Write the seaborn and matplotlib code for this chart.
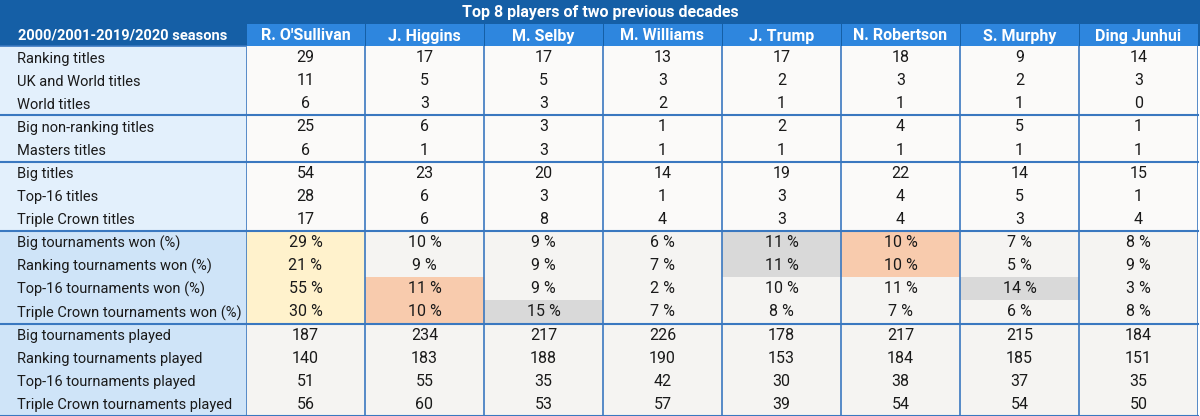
import matplotlib
matplotlib.use("Agg")
import matplotlib.pyplot as plt
from matplotlib.colors import ListedColormap
from matplotlib.patches import Rectangle
import seaborn as sns
import numpy as np

title = "Top 8 players of two previous decades"
corner_label = "2000/2001-2019/2020 seasons"
players = ["R. O'Sullivan", "J. Higgins", "M. Selby", "M. Williams",
           "J. Trump", "N. Robertson", "S. Murphy", "Ding Junhui"]

row_labels = [
    "Ranking titles", "UK and World titles", "World titles",
    "Big non-ranking titles", "Masters titles",
    "Big titles", "Top-16 titles", "Triple Crown titles",
    "Big tournaments won (%)", "Ranking tournaments won (%)",
    "Top-16 tournaments won (%)", "Triple Crown tournaments won (%)",
    "Big tournaments played", "Ranking tournaments played",
    "Top-16 tournaments played", "Triple Crown tournaments played",
]
# number of rows in each block of the table
group_sizes = [3, 2, 3, 4, 4]

ranking_titles = [29, 17, 17, 13, 17, 18, 9, 14]
uk_world_titles = [11, 5, 5, 3, 2, 3, 2, 3]
world_titles = [6, 3, 3, 2, 1, 1, 1, 0]
big_nonranking_titles = [25, 6, 3, 1, 2, 4, 5, 1]
masters_titles = [6, 1, 3, 1, 1, 1, 1, 1]
big_titles = [54, 23, 20, 14, 19, 22, 14, 15]
top16_titles = [28, 6, 3, 1, 3, 4, 5, 1]
triple_crown_titles = [17, 6, 8, 4, 3, 4, 3, 4]

big_won_pct = [29, 10, 9, 6, 11, 10, 7, 8]
ranking_won_pct = [21, 9, 9, 7, 11, 10, 5, 9]
top16_won_pct = [55, 11, 9, 2, 10, 11, 14, 3]
triple_crown_won_pct = [30, 10, 15, 7, 8, 7, 6, 8]

big_played = [187, 234, 217, 226, 178, 217, 215, 184]
ranking_played = [140, 183, 188, 190, 153, 184, 185, 151]
top16_played = [51, 55, 35, 42, 30, 38, 37, 35]
triple_crown_played = [56, 60, 53, 57, 39, 54, 54, 50]

counts = np.array([ranking_titles, uk_world_titles, world_titles,
                   big_nonranking_titles, masters_titles, big_titles,
                   top16_titles, triple_crown_titles])
pcts = np.array([big_won_pct, ranking_won_pct, top16_won_pct,
                 triple_crown_won_pct])
played = np.array([big_played, ranking_played, top16_played,
                   triple_crown_played])

annot = np.vstack([
    counts.astype(str),
    np.char.add(pcts.astype(str), " %"),
    played.astype(str),
])

# background codes: 0 plain, 1 shaded block, 2/3/4 gold/silver/bronze
codes = np.zeros(annot.shape)
codes[8:] = 1
# medals from the exact win ratio (titles / played)
wins = np.array([big_titles, ranking_titles, top16_titles, triple_crown_titles])
ratio = wins / played
for i in range(ratio.shape[0]):
    order = np.argsort(-ratio[i])
    for medal, j in enumerate(order[:3]):
        codes[8 + i, j] = 2 + medal

cell_colors = ["#fbfaf9", "#f5f4f2", "#fff2cc", "#d9d9d9", "#f8cbad"]
dark_blue = "#155fa6"
head_blue = "#2e86de"
line_blue = "#3a78c0"
label_bg = ["#e3f0fc", "#e3f0fc", "#e3f0fc", "#cfe4f8", "#cfe4f8"]

fonts = ["Roboto", "DejaVu Sans"]
plt.rcParams["font.family"] = fonts

W, H = 1200, 416
label_w = 246
col_w = 119
title_h = 24
head_h = 22
top = title_h + head_h
nrow, ncol = annot.shape
row_h = (H - top) / nrow

fig = plt.figure(figsize=(12, 4.16), dpi=100)
bg = fig.add_axes([0, 0, 1, 1])
bg.set_xlim(0, W)
bg.set_ylim(H, 0)
bg.axis("off")

# title and header
bg.add_patch(Rectangle((0, 0), W, top, color=dark_blue, lw=0))
bg.text(W / 2, title_h / 2 + 1, title, color="white", fontsize=11.5,
        fontweight="bold", ha="center", va="center")
bg.text(label_w / 2, title_h + head_h / 2 + 1, corner_label, color="white",
        fontsize=10.5, fontweight="bold", ha="center", va="center")
for j, name in enumerate(players):
    x0 = label_w + j * col_w
    bg.add_patch(Rectangle((x0 + 1, title_h), col_w - 1.5, head_h,
                           color=head_blue, lw=0))
    bg.text(x0 + col_w / 2, title_h + head_h / 2 + 1, name, color="white",
            fontsize=11.5, fontweight="bold", ha="center", va="center")

# label column
start = 0
for g, size in enumerate(group_sizes):
    bg.add_patch(Rectangle((0, top + start * row_h), label_w, size * row_h,
                           color=label_bg[g], lw=0))
    start += size
for i, lab in enumerate(row_labels):
    bg.text(17, top + (i + 0.5) * row_h + 1, lab, color="#1a1a1a",
            fontsize=10.5, ha="left", va="center")

# data cells
ax = fig.add_axes([label_w / W, 0, ncol * col_w / W, (H - top) / H])
sns.heatmap(codes, cmap=ListedColormap(cell_colors), vmin=-0.5, vmax=4.5,
            annot=annot, fmt="", cbar=False, ax=ax,
            annot_kws={"fontsize": 11.5, "color": "#1a1a1a",
                       "family": fonts})
ax.set_xticks([])
ax.set_yticks([])
for j in range(ncol + 1):
    ax.axvline(j, color=line_blue, lw=1.2)
bounds = np.cumsum(group_sizes)
for b in bounds:
    ax.axhline(b, color=line_blue, lw=1.5, clip_on=False)
    bg.plot([0, label_w], [top + b * row_h] * 2, color=line_blue, lw=1.5)
bg.plot([0, label_w], [top, top], color=line_blue, lw=1.2)

fig.savefig("out.png", dpi=100)
